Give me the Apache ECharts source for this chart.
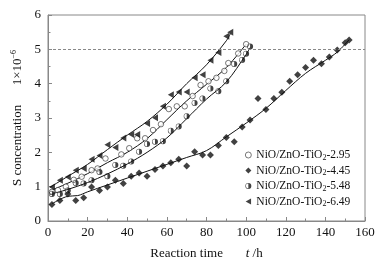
<!DOCTYPE html>
<html>
<head>
<meta charset="utf-8">
<script src="https://cdn.jsdelivr.net/npm/echarts@6/dist/echarts.min.js"></script>
<style>
html, body { margin: 0; padding: 0; background: #fff; }
#chart { width: 383px; height: 265px; }
</style>
</head>
<body>
<div id="chart"></div>
<script>
// measured points: reaction time (h) and S concentration (1e-6)
var t295 = [2, 5, 9, 13, 17, 22, 25, 29, 37, 41, 45, 49, 53, 57, 61, 65, 69, 73, 77, 81, 85, 89, 91, 96, 100];
var s295 = [0.85, 0.9, 1.0, 1.2, 1.29, 1.48, 1.53, 1.82, 1.94, 2.12, 2.41, 2.41, 2.65, 2.82, 3.26, 3.34, 3.34, 3.64, 3.96, 4.07, 4.17, 4.37, 4.6, 4.88, 5.15];

var t445 = [2, 6, 10, 14, 18, 22, 26, 30, 34, 38, 42, 46, 50, 54, 58, 62, 66, 70, 74, 78, 82, 86, 90, 94, 98, 102, 106, 110, 114, 118, 122, 126, 130, 134, 138, 142, 146, 150, 152];
var s445 = [0.48, 0.6, 0.79, 0.6, 0.68, 0.99, 0.89, 0.99, 1.19, 1.09, 1.3, 1.4, 1.3, 1.5, 1.6, 1.7, 1.8, 1.6, 2.02, 1.92, 1.92, 2.2, 2.43, 2.31, 2.74, 2.94, 3.57, 3.25, 3.57, 3.75, 4.07, 4.26, 4.47, 4.68, 4.58, 4.78, 4.98, 5.19, 5.27];

var t548 = [2, 6, 10, 14, 18, 22, 26, 30, 34, 38, 42, 46, 50, 54, 58, 62, 66, 70, 74, 78, 82, 86, 90, 94, 98, 100, 102];
var s548 = [0.79, 0.79, 0.89, 1.11, 1.09, 1.19, 1.43, 1.3, 1.63, 1.61, 1.73, 2.02, 2.24, 2.31, 2.32, 2.63, 2.75, 3.05, 3.44, 3.57, 3.86, 3.78, 4.07, 4.57, 4.69, 4.87, 5.08];

var t649 = [2, 6, 10, 14, 18, 22, 26, 30, 34, 38, 42, 45, 50, 54, 58, 62, 66, 70, 74, 78, 82, 86, 90, 92];
var s649 = [0.99, 1.19, 1.28, 1.48, 1.53, 1.8, 1.91, 2.22, 2.14, 2.42, 2.52, 2.52, 2.84, 3.01, 3.34, 3.68, 3.76, 3.76, 4.17, 4.26, 4.68, 4.91, 5.38, 5.5];

// fitted curves
var fitT295 = [1, 10, 20, 30, 40, 50, 60, 70, 80, 90, 100];
var fitS295 = [0.88, 1.1, 1.38, 1.7, 2.0, 2.4, 2.95, 3.5, 3.98, 4.47, 5.15];
var fitT445 = [2, 10, 15, 20, 30, 40, 50, 60, 70, 80, 90, 100, 110, 120, 130, 140, 146, 152];
var fitS445 = [0.5, 0.72, 0.74, 0.85, 1.05, 1.25, 1.45, 1.65, 1.85, 2.05, 2.45, 2.85, 3.28, 3.8, 4.3, 4.68, 4.92, 5.28];
var fitT548 = [1, 10, 20, 30, 40, 50, 60, 70, 80, 90, 100, 102];
var fitS548 = [0.78, 0.92, 1.12, 1.37, 1.66, 2.0, 2.42, 2.98, 3.55, 4.05, 4.85, 5.05];
var fitT649 = [1, 10, 20, 30, 40, 50, 60, 70, 80, 90, 92];
var fitS649 = [0.98, 1.3, 1.65, 2.08, 2.5, 2.9, 3.4, 4.0, 4.55, 5.25, 5.45];

var names = ['NiO/ZnO-TiO2-2.95', 'NiO/ZnO-TiO2-4.45', 'NiO/ZnO-TiO2-5.48', 'NiO/ZnO-TiO2-6.49'];
var limitLine = 5;

function pairs(xs, ys) {
    return xs.map(function (x, i) { return [x, ys[i]]; });
}

var serif = 'Liberation Serif';
var ink = '#111';
var frame = '#888';
// circle with the right half filled
var halfCircle = 'path://M0,-10A10,10 0 1,1 0,10A10,10 0 1,1 0,-10ZM0,-8.3A8.3,8.3 0 1,0 0,8.3A8.3,8.3 0 1,0 0,-8.3ZM0,-8.3A8.3,8.3 0 0,1 0,8.3Z';
// triangle pointing left
var leftTriangle = 'path://M0,5L9,0L9,10Z';

function fitLine(xs, ys, extra) {
    var s = {
        type: 'line',
        data: pairs(xs, ys),
        smooth: 0.35,
        symbol: 'none',
        silent: true,
        lineStyle: { color: ink, width: 1 },
        z: 1
    };
    return Object.assign(s, extra || {});
}

var chart = echarts.init(document.getElementById('chart'), null, { renderer: 'canvas' });

chart.setOption({
    animation: false,
    grid: { left: 48, right: 18, top: 15, bottom: 44, show: true, borderColor: frame, borderWidth: 1 },
    legend: {
        orient: 'vertical',
        left: 240,
        top: 144,
        itemWidth: 6,
        itemHeight: 6,
        itemGap: 3,
        data: [
            { name: names[0], itemStyle: { borderWidth: 0.7 } },
            names[1], names[2], names[3]
        ],
        formatter: function (n) { return n.replace('TiO2', 'TiO{sub|2}'); },
        textStyle: {
            fontFamily: serif, fontSize: 11.5, color: ink,
            rich: { sub: { fontFamily: serif, fontSize: 8, color: ink, verticalAlign: 'bottom', padding: [5, 0, 0, 0] } }
        }
    },
    xAxis: {
        type: 'value', min: 0, max: 160, interval: 20,
        name: 'Reaction time       {it|t} /h',
        nameLocation: 'middle', nameGap: 26,
        nameTextStyle: { fontFamily: serif, fontSize: 13, color: ink, rich: { it: { fontFamily: serif, fontSize: 13, fontStyle: 'italic', color: ink } } },
        axisLine: { lineStyle: { color: frame } },
        axisTick: { inside: true, length: 4, lineStyle: { color: frame } },
        minorTick: { show: true, splitNumber: 2, length: 2.5, lineStyle: { color: frame } },
        splitLine: { show: false },
        axisLabel: { fontFamily: serif, fontSize: 13, color: ink, margin: 5 }
    },
    yAxis: {
        type: 'value', min: 0, max: 6, interval: 1,
        name: 'S concentration      1×10{sup|−6}',
        nameLocation: 'middle', nameGap: 19, nameRotate: 90,
        nameTextStyle: { fontFamily: serif, fontSize: 13, color: ink, rich: { sup: { fontFamily: serif, fontSize: 8, color: ink, verticalAlign: 'top', padding: [0, 0, 6, 0] } } },
        axisLine: { lineStyle: { color: frame } },
        axisTick: { inside: true, length: 4, lineStyle: { color: frame } },
        minorTick: { show: true, splitNumber: 2, length: 2.5, lineStyle: { color: frame } },
        splitLine: { show: false },
        axisLabel: { fontFamily: serif, fontSize: 13, color: ink, margin: 7 }
    },
    series: [
        fitLine(fitT295, fitS295),
        fitLine(fitT445, fitS445, {
            markLine: {
                silent: true, symbol: 'none', label: { show: false },
                lineStyle: { color: frame, type: [3, 2], width: 1 },
                data: [{ yAxis: limitLine }]
            }
        }),
        fitLine(fitT548, fitS548),
        fitLine(fitT649, fitS649),
        { name: names[0], type: 'scatter', data: pairs(t295, s295), symbol: 'circle', symbolSize: 5.5,
          itemStyle: { color: '#fff', borderColor: ink, borderWidth: 0.7 }, z: 3 },
        { name: names[1], type: 'scatter', data: pairs(t445, s445), symbol: 'diamond', symbolSize: 7,
          itemStyle: { color: ink }, z: 3 },
        { name: names[2], type: 'scatter', data: pairs(t548, s548), symbol: halfCircle, symbolSize: 6,
          itemStyle: { color: ink }, z: 3 },
        { name: names[3], type: 'scatter', data: pairs(t649, s649), symbol: leftTriangle, symbolSize: [6, 7],
          itemStyle: { color: ink }, z: 3 }
    ]
});
</script>
</body>
</html>
